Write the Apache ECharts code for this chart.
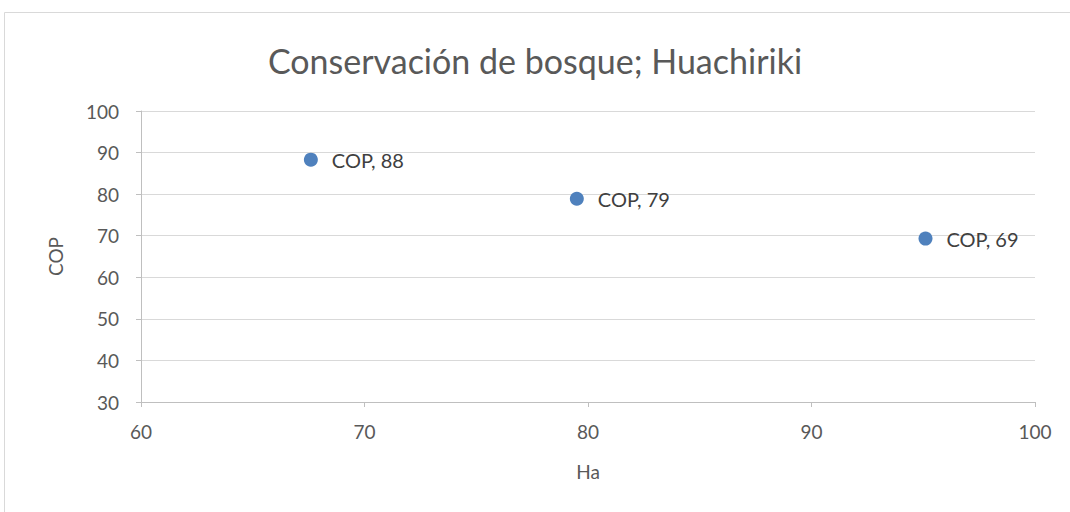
<!DOCTYPE html>
<html>
<head>
<meta charset="utf-8">
<script src="https://cdn.jsdelivr.net/npm/echarts@6/dist/echarts.min.js"></script>
<style>
  html, body { margin: 0; padding: 0; background: #fff; }
  #chart { width: 1070px; height: 512px; }
</style>
</head>
<body>
<div id="chart"></div>
<script>
// Conservación de bosque; Huachiriki
const seriesName = 'COP';
const haValues = [67.6, 79.5, 95.1];
const copValues = [88.3, 78.9, 69.3];
const xTicks = { min: 60, max: 100, interval: 10 };
const yTicks = { min: 30, max: 100, interval: 10 };

const font = 'Lato, "Open Sans", sans-serif';
const points = haValues.map((x, i) => [x, copValues[i]]);

const chart = echarts.init(document.getElementById('chart'), null, { renderer: 'svg' });
chart.setOption({
  animation: false,
  textStyle: { fontFamily: font },
  graphic: [{
    type: 'rect',
    shape: { x: 4.5, y: 12.5, width: 1080, height: 520 },
    style: { fill: 'none', stroke: '#d9d9d9', lineWidth: 1 },
    silent: true
  }],
  title: {
    text: 'Conservación de bosque; Huachiriki',
    left: 'center',
    top: 38,
    textStyle: { fontFamily: font, fontSize: 34, fontWeight: 'normal', color: '#595959' }
  },
  grid: { left: 141, right: 35, top: 111, bottom: 110 },
  xAxis: {
    type: 'value',
    min: xTicks.min, max: xTicks.max, interval: xTicks.interval,
    name: 'Ha',
    nameLocation: 'middle',
    nameGap: 60,
    nameTextStyle: { fontFamily: font, fontSize: 19, color: '#595959' },
    axisLine: { show: true, lineStyle: { color: '#bfbfbf' } },
    axisTick: { show: true, length: 5, lineStyle: { color: '#bfbfbf' } },
    axisLabel: { fontFamily: font, fontSize: 19, color: '#595959', margin: 20 },
    splitLine: { show: false }
  },
  yAxis: {
    type: 'value',
    min: yTicks.min, max: yTicks.max, interval: yTicks.interval,
    name: 'COP',
    nameLocation: 'middle',
    nameGap: 76,
    nameRotate: 90,
    nameTextStyle: { fontFamily: font, fontSize: 19, color: '#595959' },
    axisLine: { show: true, lineStyle: { color: '#bfbfbf' } },
    axisTick: { show: true, length: 5, lineStyle: { color: '#bfbfbf' } },
    axisLabel: { fontFamily: font, fontSize: 19, color: '#595959', margin: 22 },
    splitLine: { show: true, lineStyle: { color: '#d9d9d9' } }
  },
  series: [{
    name: seriesName,
    type: 'scatter',
    data: points,
    symbol: 'circle',
    symbolSize: 14,
    itemStyle: { color: '#4f81bd', opacity: 1 },
    label: {
      show: true,
      position: 'right',
      distance: 14,
      fontFamily: font,
      fontSize: 20,
      color: '#404040',
      formatter: p => p.seriesName + ', ' + Math.round(p.value[1])
    }
  }]
});
</script>
</body>
</html>
